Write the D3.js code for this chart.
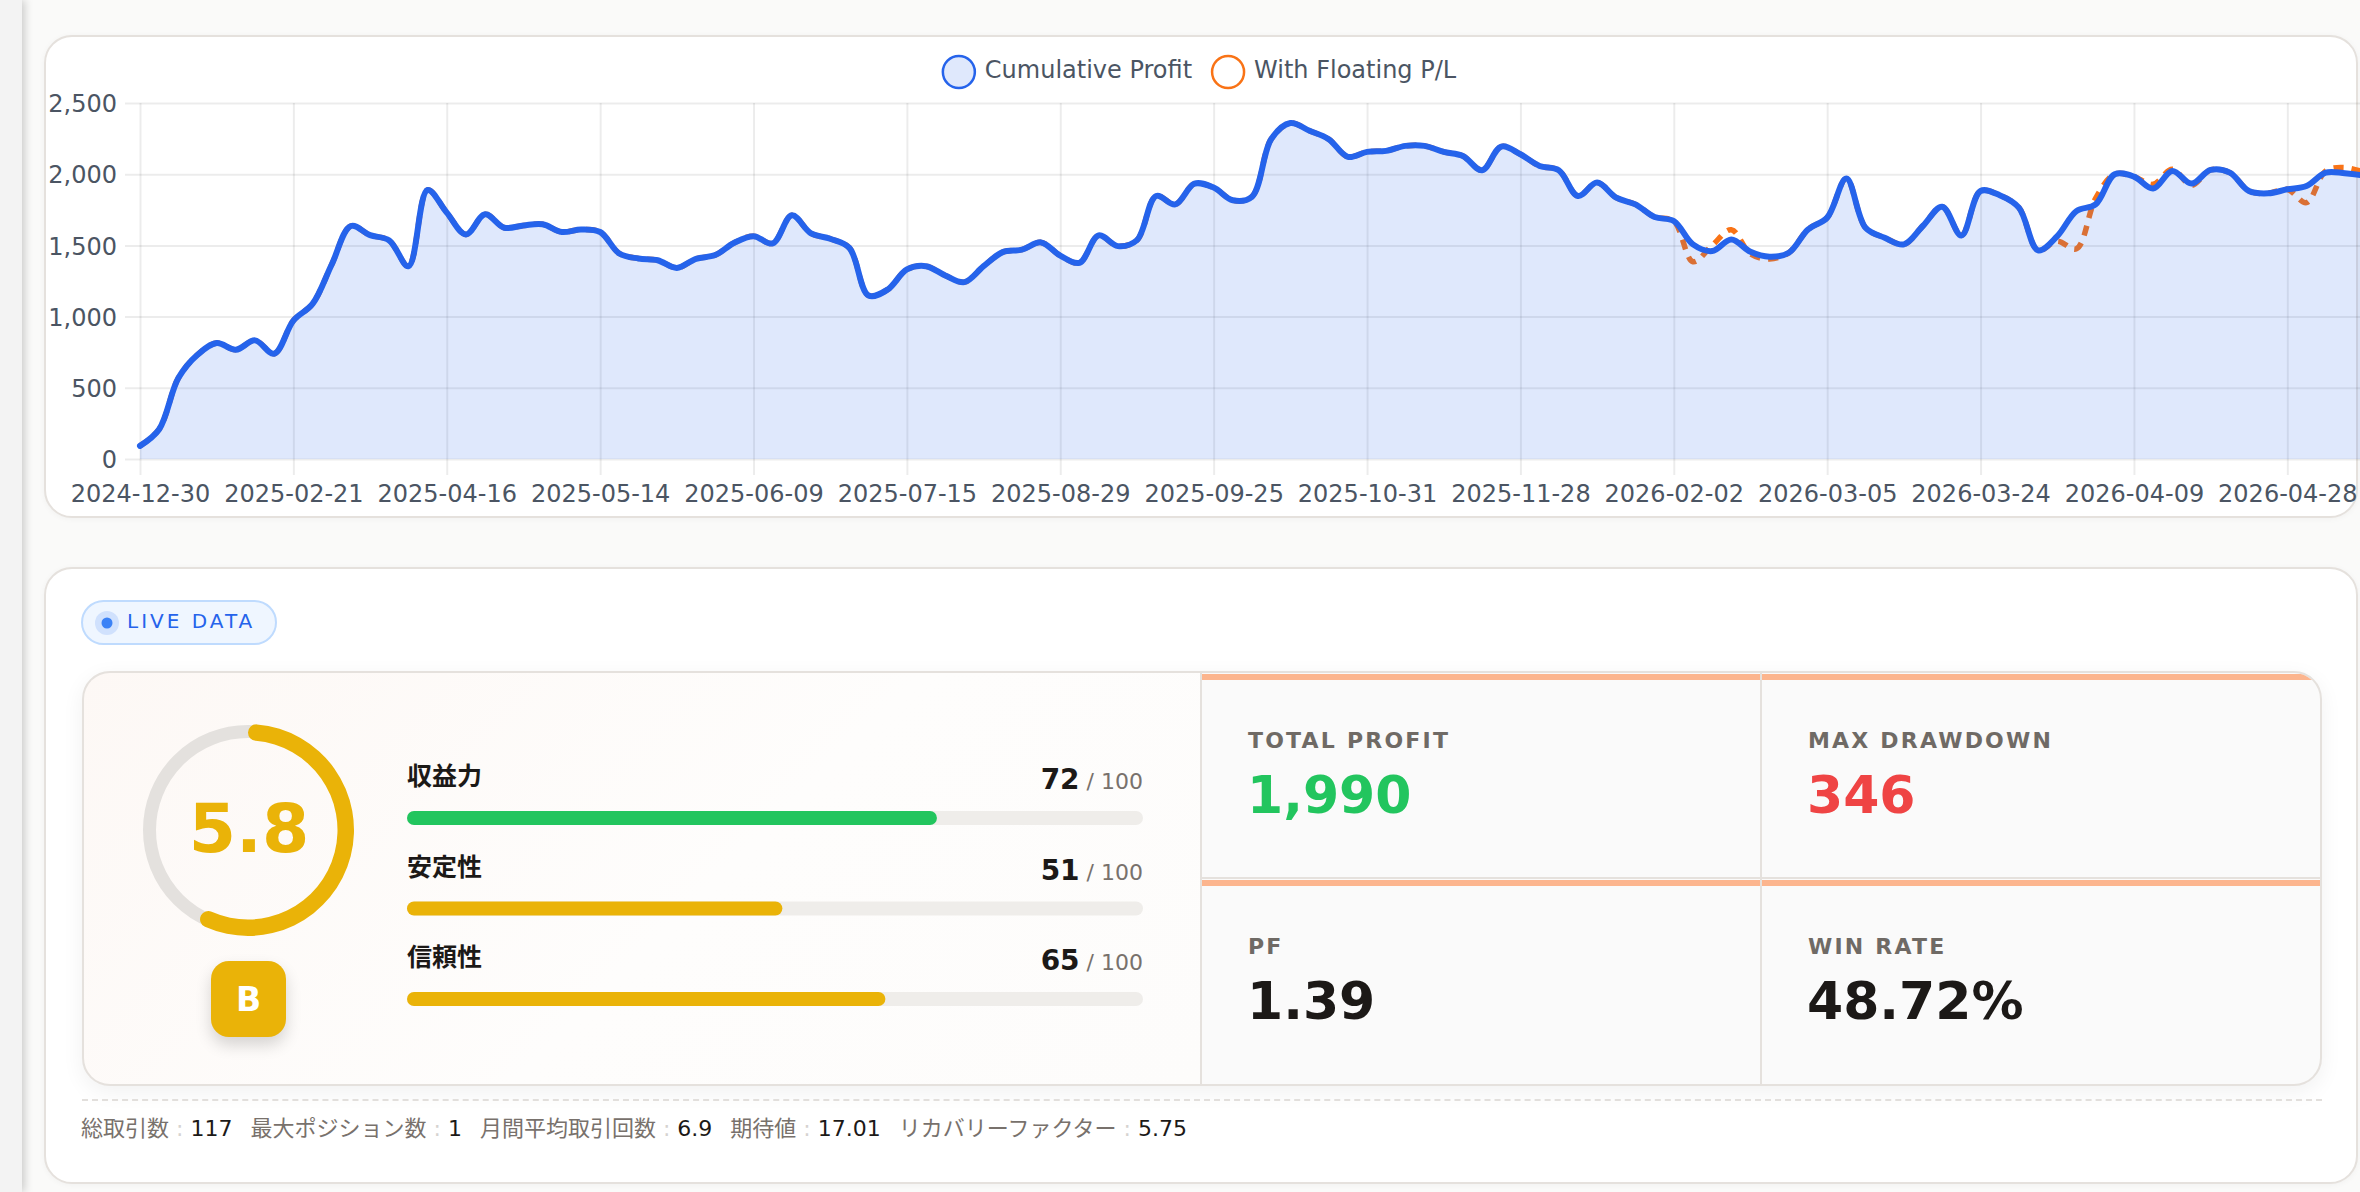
<!DOCTYPE html>
<html>
<head>
<meta charset="utf-8">
<script src="https://cdn.jsdelivr.net/npm/d3@7"></script>
<style>
  html, body { margin: 0; padding: 0; }
  body {
    width: 2360px; height: 1192px; overflow: hidden; position: relative;
    background: #fafaf9;
    font-family: "DejaVu Sans", "Noto Sans CJK JP", sans-serif;
  }
  .side { position: absolute; left: 0; top: 0; width: 22px; height: 1192px; background: #f3f3f3;
          box-shadow: 3px 0 8px rgba(0,0,0,0.18); z-index: 5; }
  .card { position: absolute; left: 44px; width: 2314px; background: #fff; box-sizing: border-box;
          border: 2px solid #e5e1dd; border-radius: 28px; box-shadow: 0 1px 6px rgba(0,0,0,0.04); }
  #chart-card { top: 35px; height: 483px; }
  #stats-card { top: 567px; height: 617px; }
  .pill { position: absolute; left: 81px; top: 600px; width: 196px; height: 45px; box-sizing: border-box;
          border: 2px solid #bfdbfe; background: #eff6ff; border-radius: 23px; }
  .inner { position: absolute; left: 82px; top: 671px; width: 2240px; height: 415px; box-sizing: border-box;
           border: 2px solid #e5e1dd; border-radius: 28px; overflow: hidden; background: #e5e1dd;
           box-shadow: 0 6px 22px rgba(0,0,0,0.06); }
  .left { position: absolute; left: 0; top: 0; width: 1116px; height: 411px;
          background: linear-gradient(135deg, #fdf8f5 0%, #fefdfc 55%, #fdfcfb 100%); }
  .cell { position: absolute; background: #fafafa; }
  .cell .bar { position: absolute; left: 0; right: 0; top: 1px; height: 6px; background: #fcb58e; }
  .badge { position: absolute; left: 211px; top: 961px; width: 75px; height: 76px; border-radius: 18px;
           background: #eab308; box-shadow: 0 8px 16px rgba(0,0,0,0.16); }
  .dash { position: absolute; left: 82px; top: 1099px; width: 2240px; border-top: 2px dashed #e2dfdc; }
  #overlay { position: absolute; left: 0; top: 0; z-index: 3; }
</style>
</head>
<body>
<div class="side"></div>
<div class="card" id="chart-card"></div>
<div class="card" id="stats-card"></div>
<div class="pill"></div>
<div class="inner" id="inner"><div class="left"></div></div>
<div class="badge"></div>
<div class="dash"></div>
<svg id="overlay" width="2360" height="1192"></svg>

<script>
////////////////////////////  Data  ////////////////////////////
// 取引ごとの累積損益 (117 trades)
const cumProfit = [
  92, 209, 568, 732, 814, 767, 833, 739, 972, 1089,
  1366, 1636, 1572, 1535, 1354, 1889, 1730, 1577, 1718, 1624,
  1640, 1648, 1594, 1612, 1594, 1443, 1408, 1396, 1342, 1406,
  1432, 1519, 1565, 1514, 1711, 1584, 1547, 1483, 1148, 1190,
  1331, 1354, 1289, 1242, 1354, 1453, 1470, 1521, 1428, 1378,
  1570, 1495, 1537, 1847, 1788, 1934, 1906, 1817, 1842, 2246,
  2359, 2305, 2246, 2122, 2157, 2164, 2199, 2199, 2157, 2128,
  2028, 2194, 2140, 2058, 2028, 1847, 1941, 1835, 1788, 1699,
  1671, 1507, 1460, 1542, 1455, 1420, 1448, 1612, 1695, 1969,
  1624, 1554, 1507, 1638, 1772, 1570, 1882, 1852, 1765, 1465,
  1565, 1741, 1788, 2000, 1983, 1899, 2023, 1934, 2030, 2011,
  1882, 1866, 1894, 1917, 2011, 2007, 1990
];
// 含み損益込み
const floatingPL = [
  92, 209, 568, 732, 814, 767, 833, 739, 972, 1089,
  1366, 1636, 1572, 1535, 1354, 1889, 1730, 1577, 1718, 1624,
  1640, 1648, 1594, 1612, 1594, 1443, 1408, 1396, 1342, 1406,
  1432, 1519, 1565, 1514, 1711, 1584, 1547, 1483, 1148, 1190,
  1331, 1354, 1289, 1242, 1354, 1453, 1470, 1521, 1428, 1378,
  1570, 1495, 1537, 1847, 1788, 1934, 1906, 1817, 1842, 2246,
  2359, 2305, 2246, 2122, 2157, 2164, 2199, 2199, 2157, 2128,
  2028, 2194, 2140, 2058, 2028, 1847, 1941, 1835, 1788, 1699,
  1671, 1385, 1500, 1610, 1440, 1405, 1448, 1612, 1695, 1969,
  1624, 1554, 1507, 1638, 1772, 1570, 1882, 1852, 1765, 1465,
  1530, 1476, 1830, 2000, 1983, 1929, 2035, 1922, 2030, 2011,
  1882, 1866, 1894, 1800, 2023, 2046, 2015
];
// x軸に出ているラベル (8件ごと)
const tickLabels = ["2024-12-30", "2025-02-21", "2025-04-16", "2025-05-14", "2025-06-09",
  "2025-07-15", "2025-08-29", "2025-09-25", "2025-10-31", "2025-11-28",
  "2026-02-02", "2026-03-05", "2026-03-24", "2026-04-09", "2026-04-28"];
const tickEvery = 8;
const yTicks = [0, 500, 1000, 1500, 2000, 2500];
const legendNames = ["Cumulative Profit", "With Floating P/L"];

const overallScore = 5.8;
const grade = "B";
const scoreLabels = ["収益力", "安定性", "信頼性"];
const scoreValues = [72, 51, 65];

const metricLabels = ["TOTAL PROFIT", "MAX DRAWDOWN", "PF", "WIN RATE"];
const metricValues = ["1,990", "346", "1.39", "48.72%"];
const metricColors = ["#22c55e", "#ef4444", "#1c1917", "#1c1917"];

const footerLabels = ["総取引数", "最大ポジション数", "月間平均取引回数", "期待値", "リカバリーファクター"];
const footerValues = ["117", "1", "6.9", "17.01", "5.75"];

const BLUE = "#2563eb", ORANGE = "#f97316", YELLOW = "#eab308", GREEN = "#22c55e";

const svg = d3.select("#overlay");

////////////////////////////  Chart  ////////////////////////////
const plot = { left: 140, right: 2364, top: 103, bottom: 459 };
const xScale = d3.scaleLinear().domain([0, cumProfit.length - 1]).range([plot.left, plot.right]);
const yScale = d3.scaleLinear().domain([0, 2500]).range([plot.bottom, plot.top]);
const plotW = plot.right - plot.left;
const plotH = plot.bottom - plot.top;
const gridColor = "rgba(0,0,0,0.075)";
const textColor = "#4b5563";

// y axis + grid
const yAxis = svg.append("g").attr("transform", `translate(${plot.left},0)`)
  .call(d3.axisLeft(yScale).tickValues(yTicks).tickFormat(d3.format(",")).tickSize(-plotW).tickPadding(23));
yAxis.select(".domain").remove();
yAxis.selectAll("line").attr("x1", -15).attr("x2", plotW).attr("stroke", gridColor).attr("stroke-width", 2);
yAxis.selectAll("text").attr("fill", textColor).attr("font-size", 24).attr("font-family", "DejaVu Sans")
  .attr("dy", "0.36em");

// x axis + grid
const tickIdx = d3.range(0, cumProfit.length, tickEvery);
const xAxis = svg.append("g").attr("transform", `translate(0,${plot.bottom})`)
  .call(d3.axisBottom(xScale).tickValues(tickIdx).tickFormat((d, i) => tickLabels[i]));
xAxis.select(".domain").remove();
xAxis.selectAll("line").attr("y1", -plotH).attr("y2", 16).attr("stroke", gridColor).attr("stroke-width", 2);
xAxis.selectAll("text").attr("fill", textColor).attr("font-size", 24).attr("font-family", "DejaVu Sans")
  .attr("y", 43).attr("dy", 0);

const curve = d3.curveCatmullRom.alpha(0.5);
const line = d3.line().x((d, i) => xScale(i)).y((d) => yScale(d)).curve(curve);
const area = d3.area().x((d, i) => xScale(i)).y0(plot.bottom).y1((d) => yScale(d)).curve(curve);

// 含み損益 (下に描く)
svg.append("path").datum(floatingPL).attr("d", line)
  .attr("fill", "none").attr("stroke", ORANGE).attr("stroke-width", 5.5)
  .attr("stroke-dasharray", "10 8");

svg.append("path").datum(cumProfit).attr("d", area).attr("fill", "rgba(37,99,235,0.15)");
svg.append("path").datum(cumProfit).attr("d", line)
  .attr("fill", "none").attr("stroke", BLUE).attr("stroke-width", 6)
  .attr("stroke-linejoin", "round").attr("stroke-linecap", "round");

// legend
const legend = svg.append("g");
const legendFill = ["rgba(37,99,235,0.15)", "rgba(255,255,255,0)"];
const legendStroke = [BLUE, ORANGE];
let lx = 0;
legendNames.forEach((name, i) => {
  const item = legend.append("g").attr("transform", `translate(${lx},0)`);
  item.append("circle").attr("cx", 17).attr("cy", 72).attr("r", 16)
    .attr("fill", legendFill[i]).attr("stroke", legendStroke[i]).attr("stroke-width", 2.5);
  const t = item.append("text").attr("x", 43).attr("y", 78).text(name)
    .attr("font-size", 24).attr("font-family", "DejaVu Sans").attr("fill", textColor);
  lx += 43 + t.node().getComputedTextLength() + 19;
});
const legendW = lx - 19;
legend.attr("transform", `translate(${1199 - legendW / 2},0)`);

////////////////////////////  Stats  ////////////////////////////
// LIVE DATA pill
svg.append("circle").attr("cx", 107).attr("cy", 623).attr("r", 12).attr("fill", "#d0e1fd");
svg.append("circle").attr("cx", 107).attr("cy", 623).attr("r", 5.5).attr("fill", "#3b82f6");
svg.append("text").attr("x", 127).attr("y", 628).text("LIVE DATA")
  .attr("font-size", 20).attr("letter-spacing", 3).attr("fill", BLUE);

// score ring
const ring = svg.append("g").attr("transform", "translate(248,830)");
ring.append("circle").attr("r", 98.5).attr("fill", "none").attr("stroke", "#e4e1de").attr("stroke-width", 13);
const ringArc = d3.arc().innerRadius(89.5).outerRadius(106).cornerRadius(8.25);
ring.append("path")
  .attr("d", ringArc({ startAngle: 0, endAngle: (overallScore / 10) * 2 * Math.PI }))
  .attr("fill", YELLOW);
ring.append("text").attr("x", 1).attr("y", 22).attr("text-anchor", "middle").text(overallScore.toFixed(1))
  .attr("font-size", 68).attr("font-weight", "bold").attr("fill", YELLOW);

svg.append("text").attr("x", 248.5).attr("y", 1011).attr("text-anchor", "middle").text(grade)
  .attr("font-size", 33).attr("font-weight", "bold").attr("fill", "#fff");

// sub-score bars
const barScale = d3.scaleLinear().domain([0, 100]).range([407, 1143]);
const rowGap = 90.5;
scoreLabels.forEach((lab, i) => {
  const y0 = 811 + i * rowGap;
  svg.append("text").attr("x", 407).attr("y", y0 - 26).text(lab)
    .attr("font-size", 25).attr("font-weight", "bold").attr("fill", "#1c1917");
  const t = svg.append("text").attr("x", 1143).attr("y", y0 - 22).attr("text-anchor", "end");
  t.append("tspan").text(scoreValues[i]).attr("font-size", 28).attr("font-weight", "bold").attr("fill", "#1c1917");
  t.append("tspan").text(" / 100").attr("font-size", 22).attr("fill", "#78716c");
  svg.append("rect").attr("x", barScale(0)).attr("y", y0).attr("width", barScale(100) - barScale(0))
    .attr("height", 14).attr("rx", 7).attr("fill", "#efedea");
  svg.append("rect").attr("x", barScale(0)).attr("y", y0).attr("width", barScale(scoreValues[i]) - barScale(0))
    .attr("height", 14).attr("rx", 7).attr("fill", scoreValues[i] >= 70 ? GREEN : YELLOW);
});

// metric cells (2x2)
const cellX = [1202, 1762], cellW = [558, 558];
const cellY = [673, 879], cellH = [204, 205];
const inner = d3.select("#inner");
metricLabels.forEach((lab, k) => {
  const c = k % 2, r = Math.floor(k / 2);
  inner.append("div").attr("class", "cell")
    .style("left", (cellX[c] - 84) + "px").style("top", (cellY[r] - 673) + "px")
    .style("width", cellW[c] + "px").style("height", cellH[r] + "px")
    .append("div").attr("class", "bar");
  svg.append("text").attr("x", cellX[c] + 46).attr("y", cellY[r] + 75).text(lab)
    .attr("font-size", 22).attr("font-weight", "bold").attr("letter-spacing", 2.2).attr("fill", "#6f6a65");
  svg.append("text").attr("x", cellX[c] + 45).attr("y", cellY[r] + 140).text(metricValues[k])
    .attr("font-size", 52).attr("font-weight", "bold").attr("fill", metricColors[k]);
});

// footer stats
const foot = svg.append("text").attr("x", 81).attr("y", 1136).attr("font-size", 22);
footerLabels.forEach((lab, i) => {
  foot.append("tspan").attr("dx", i ? 18 : 0).text(lab).attr("fill", "#78716c");
  foot.append("tspan").attr("dx", 7).text(":").attr("fill", "#d6d3d1");
  foot.append("tspan").attr("dx", 7).text(footerValues[i]).attr("fill", "#1c1917");
});
</script>
</body>
</html>
